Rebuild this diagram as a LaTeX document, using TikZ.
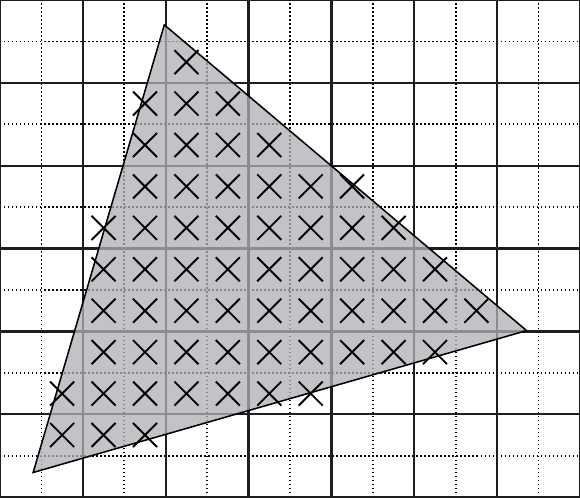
\documentclass[tikz,border=0pt]{standalone}
\usetikzlibrary{calc}
\definecolor{trifill}{RGB}{176,176,182}
\definecolor{gridcol}{RGB}{30,30,30}
\tikzset{
  majorline/.style={draw=gridcol, line width=1.6pt},
  minorline/.style={draw=black, line width=1.1pt, dash pattern=on 1pt off 1.75pt},
  xmark/.style={draw=black, line width=1.3pt}
}
\newcommand{\xm}[2]{\draw[xmark] ($(#1+0.5,#2+0.5)+(-0.29,-0.29)$) -- ++(0.58,0.58) ($(#1+0.5,#2+0.5)+(-0.29,0.29)$) -- ++(0.58,-0.58);}
\begin{document}
\begin{tikzpicture}[x=1cm,y=1cm]
\useasboundingbox (0,0) rectangle (14,12);
\fill[white] (0,0) rectangle (14,12);
% minor grid
\foreach \i in {1,3,...,13} {\draw[minorline] (\i,0) -- (\i,12);}
\foreach \j in {1,3,...,11} {\draw[minorline] (0,\j) -- (14,\j);}
% major grid
\foreach \i in {0,2,...,14} {\draw[majorline] (\i,0) -- (\i,12);}
\foreach \j in {0,2,...,12} {\draw[majorline] (0,\j) -- (14,\j);}
% triangle
\coordinate (A) at (3.966,11.40);
\coordinate (B) at (12.71,4.02);
\coordinate (C) at (0.80,0.595);
\path[fill=trifill, fill opacity=0.76] (A) -- (B) -- (C) -- cycle;
\draw[draw=black, line width=1.05pt, line join=miter] (A) -- (B) -- (C) -- cycle;
% sample marks (row from top j -> y = 11 - j)
\foreach \i in {4} {\xm{\i}{10}}
\foreach \i in {3,...,5} {\xm{\i}{9}}
\foreach \i in {3,...,6} {\xm{\i}{8}}
\foreach \i in {3,...,8} {\xm{\i}{7}}
\foreach \i in {2,...,9} {\xm{\i}{6}}
\foreach \i in {2,...,10} {\xm{\i}{5}}
\foreach \i in {2,...,11} {\xm{\i}{4}}
\foreach \i in {2,...,10} {\xm{\i}{3}}
\foreach \i in {1,...,7} {\xm{\i}{2}}
\foreach \i in {1,...,3} {\xm{\i}{1}}
\end{tikzpicture}
\end{document}
